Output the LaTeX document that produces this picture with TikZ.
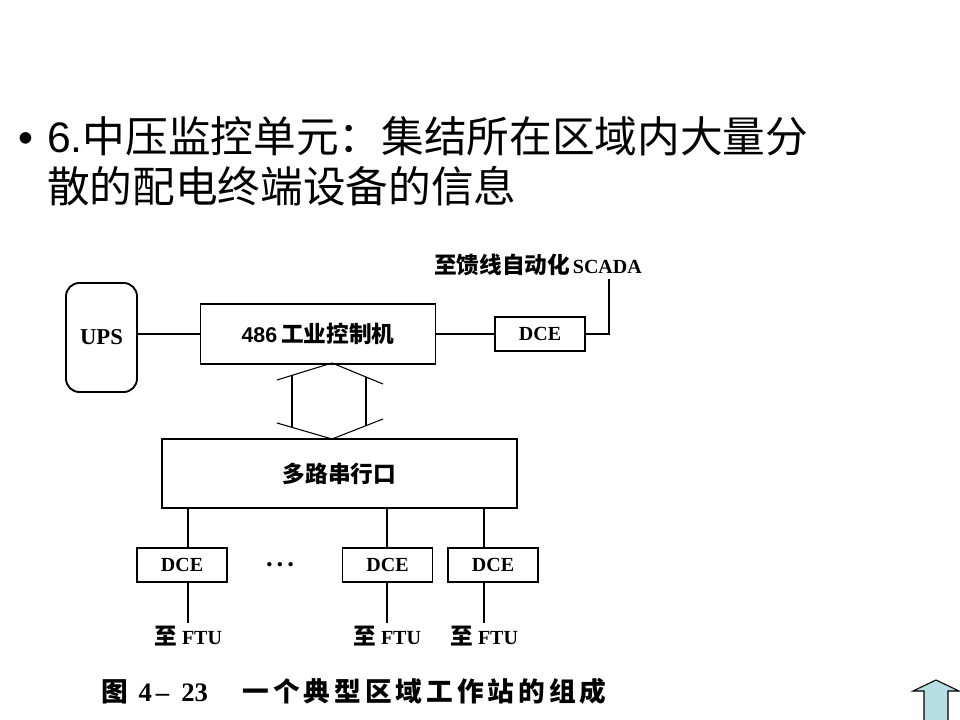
\documentclass[tikz,border=0pt]{standalone}
\usepackage{fontspec}
\setmainfont{Liberation Serif}
\setsansfont{Liberation Sans}
\newfontfamily\cjk{Noto Sans CJK SC}
\newfontfamily\capcjk{Noto Sans CJK SC}[LetterSpace=15]
\usetikzlibrary{positioning}
\definecolor{arrowfill}{HTML}{B7DEE2}
\newcommand{\zh}[1]{{\cjk\bfseries\fontsize{17}{17}\selectfont #1}}

\begin{document}
\begin{tikzpicture}[x=0.75pt,y=-0.75pt,
  blk/.style={draw,line width=1.4pt,inner sep=0pt,font=\rmfamily\bfseries\fontsize{15}{15}\selectfont},
  dcebox/.style={blk,minimum width=67.5pt,minimum height=25.5pt},
  lbl/.style={inner sep=2pt,font=\rmfamily\bfseries\fontsize{15}{15}\selectfont},
  lnk/.style={line width=0.8pt}]
\useasboundingbox (0,0) rectangle (960,720);
% title
\node[anchor=base,font=\sffamily\fontsize{32}{32}\selectfont] (bullet) at (26,153) {•};
\node[anchor=base west,inner sep=0pt,font=\sffamily\fontsize{32}{32}\selectfont] (line1) at (47,153) {6.{\cjk 中压监控单元：集结所在区域内大量分}};
\node[anchor=base west,inner sep=0pt,font=\sffamily\fontsize{32}{32}\selectfont] (line2) at (47,203) {{\cjk 散的配电终端设备的信息}};
% upper row
\node[blk,rounded corners=10pt,minimum width=53.25pt,minimum height=81.75pt,font=\rmfamily\bfseries\fontsize{17}{17}\selectfont] (ups) at (101.5,337.5) {UPS};
\node[blk,minimum width=176.25pt,minimum height=45pt] (ipc) at (318,334) {{\sffamily\fontsize{16}{16}\selectfont 486}\hspace{3pt}\zh{工业控制机}};
\node[dcebox] (dcetop) at (540,334) {DCE};
\node[lbl] (scada) at (538,265) {\zh{至馈线自动化}\hspace{2pt}SCADA};
\coordinate (bend) at (609,334);
\draw[lnk] (ups.east |- ipc) -- (ipc.west);
\draw[lnk] (ipc.east) -- (dcetop.west);
\draw[lnk] (dcetop.east) -- (bend) -- (bend |- scada.south);
% double arrow
\draw[lnk] (277,380) -- (332,363) -- (383,384);
\draw[lnk] (292,375) -- (292,427);
\draw[lnk] (366,377) -- (366,426);
\draw[lnk] (277,423) -- (332,439) -- (383,419);
% serial ports
\node[blk,minimum width=266.25pt,minimum height=51.75pt] (mux) at (339.5,473.5) {\zh{多路串行口}};
\node[dcebox] (dcea) at (182,565) {DCE};
\node[dcebox] (dceb) at (387.5,565) {DCE};
\node[dcebox] (dcec) at (493,565) {DCE};
\node[inner sep=0pt,font=\rmfamily\bfseries\fontsize{20}{20}\selectfont] (dots) at (280,565) {.\hspace{3pt}.\hspace{3pt}.};
\node[lbl] (ftua) at (188,636) {\zh{至}\hspace{4pt}FTU};
\node[lbl] (ftub) at (387,636) {\zh{至}\hspace{4pt}FTU};
\node[lbl] (ftuc) at (484,636) {\zh{至}\hspace{4pt}FTU};
\foreach \d/\f in {dcea/ftua,dceb/ftub,dcec/ftuc}{
  \draw[lnk] (\f |- mux.south) -- (\f |- \d.north);
  \draw[lnk] (\f |- \d.south) -- (\f.north);
}
% caption
\node[anchor=base west,inner sep=0pt,font=\rmfamily\bfseries\fontsize{20}{20}\selectfont] (caption) at (101,701)
  {{\capcjk\bfseries 图}\hspace{8pt}4\hspace{3pt}–\hspace{9pt}23\hspace{26pt}{\capcjk\bfseries 一个典型区域工作站的组成}};
% up arrow
\draw[fill=arrowfill,line width=0.8pt] (936,680) -- (959,691) -- (948,691) -- (948,721) -- (924,721) -- (924,691) -- (913,691) -- cycle;
\end{tikzpicture}
\end{document}
